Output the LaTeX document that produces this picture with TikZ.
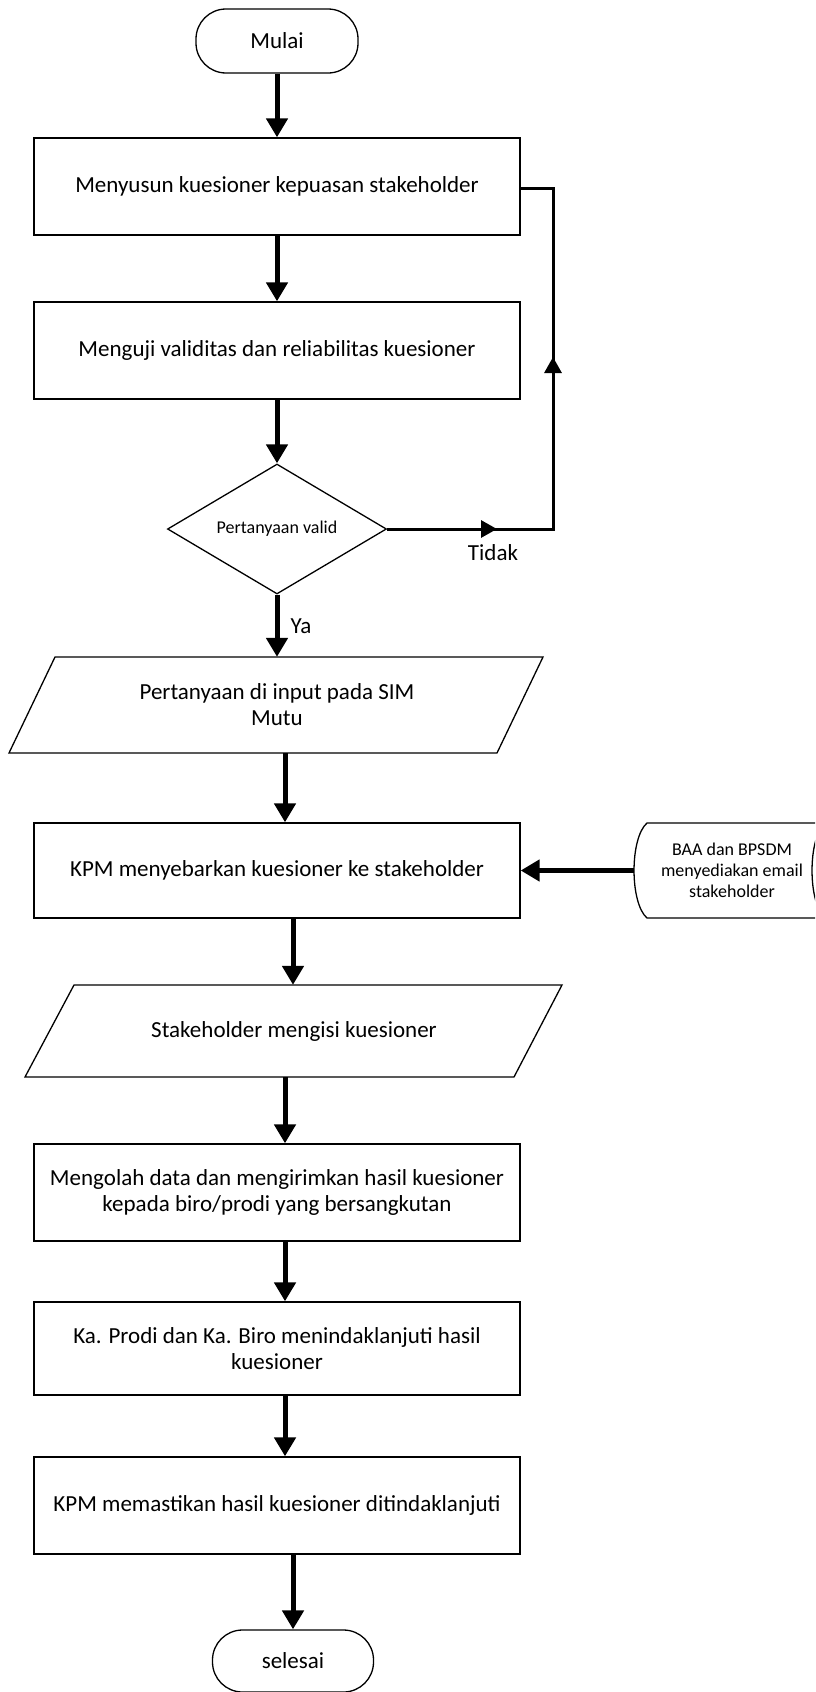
\documentclass[tikz,border=0pt]{standalone}
\usepackage{fontspec}
\setmainfont{Carlito}
\usetikzlibrary{arrows.meta,shapes.geometric,calc}
\begin{document}
\begin{tikzpicture}[x=1pt,y=-1pt,
  mainfont/.style={font=\fontsize{23}{26}\selectfont},
  smallfont/.style={font=\fontsize{18}{21}\selectfont},
  box/.style={draw, line width=1.3pt, minimum width=486pt, minimum height=97pt, inner sep=0pt, align=center, mainfont},
  term/.style={draw, line width=1.3pt, rounded corners=30pt, minimum width=162pt, minimum height=64pt, inner sep=0pt, mainfont},
  txt/.style={inner sep=0pt, align=center, mainfont},
  outline/.style={draw, line width=1.3pt, line join=miter},
  flow/.style={line width=5pt, -{Triangle[length=19pt,width=21pt]}},
  fb/.style={line width=3pt},
  fbarrow/.style={line width=3pt, -{Triangle[length=16pt,width=17pt]}}
]
\useasboundingbox (0,0) rectangle (815,1692);
\fill[white] (0,0) rectangle (815,1692);
\clip (0,0) rectangle (815,1692);

\coordinate (x285) at (285,0);
\coordinate (x293) at (293,0);

% nodes
\node[term] (start) at (277,41) {Mulai};
\node[box] (b1) at (277,186.5) {Menyusun kuesioner kepuasan stakeholder};
\node[box] (b2) at (277,350.5) {Menguji validitas dan reliabilitas kuesioner};
\node[diamond, draw, line width=1.3pt, aspect=1.685, minimum width=219pt, minimum height=130pt, inner sep=0pt, smallfont] (dia) at (277,529) {Pertanyaan valid};

\draw[outline] (55,657) -- (543,657) -- (497,753) -- (9,753) -- cycle;
\node[txt, minimum width=488pt, minimum height=96pt] (p1) at (277,705) {Pertanyaan di input pada SIM\\Mutu};

\node[box, minimum height=95pt] (kpm) at (277,870.5) {KPM menyebarkan kuesioner ke stakeholder};

\draw[outline] (647,823) -- (825,823) .. controls (807.7,838) and (807.7,903) .. (825,918) -- (647,918) .. controls (629.7,903) and (629.7,838) .. (647,823) -- cycle;
\node[inner sep=0pt, align=center, smallfont, minimum width=196pt, minimum height=95pt] (baa) at (732,870.5) {BAA dan BPSDM\\menyediakan email\\stakeholder};

\draw[outline] (74,985) -- (562,985) -- (514,1077) -- (25,1077) -- cycle;
\node[txt, minimum width=488pt, minimum height=92pt] (p2) at (294,1031) {Stakeholder mengisi kuesioner};

\node[box] (b5) at (277,1192.5) {Mengolah data dan mengirimkan hasil kuesioner\\kepada biro/prodi yang bersangkutan};
\node[box, minimum height=93pt] (b6) at (277,1348.5) {Ka. Prodi dan Ka. Biro menindaklanjuti hasil\\kuesioner};
\node[box] (b7) at (277,1505.5) {KPM memastikan hasil kuesioner ditindaklanjuti};
\node[term, minimum width=161pt, minimum height=62pt] (end) at (293,1661) {selesai};

% labels
\node[txt, inner sep=0pt] (tidak) at (493,553) {Tidak};
\node[txt, inner sep=0pt] (ya) at (301,626) {Ya};

% connectors
\draw[flow] (start.south) -- (b1.north);
\draw[flow] (b1.south) -- (b2.north);
\draw[flow] (b2.south) -- (dia.north);
\draw[flow] (dia.south) -- (dia.south |- p1.north);
\draw[flow] (p1.south -| x285) -- (kpm.north -| x285);
\draw[flow] (kpm.south -| x293) -- (p2.north -| x293);
\draw[flow] (p2.south -| x285) -- (b5.north -| x285);
\draw[flow] (b5.south -| x285) -- (b6.north -| x285);
\draw[flow] (b6.south -| x285) -- (b7.north -| x285);
\draw[flow] (b7.south -| x293) -- (end.north);
\draw[flow] (baa.west) -- (kpm.east);

% feedback loop
\coordinate (c1) at (553,529);
\coordinate (c2) at (553,188);
\coordinate (t1) at (497,529);
\coordinate (u1) at (553,357);
\draw[fb, line join=miter] (dia.east) -- (c1) -- (c2) -- (b1.east |- c2);
\draw[fbarrow] (dia.east) -- (t1);
\draw[fbarrow] (c1) -- (u1);
\end{tikzpicture}
\end{document}
